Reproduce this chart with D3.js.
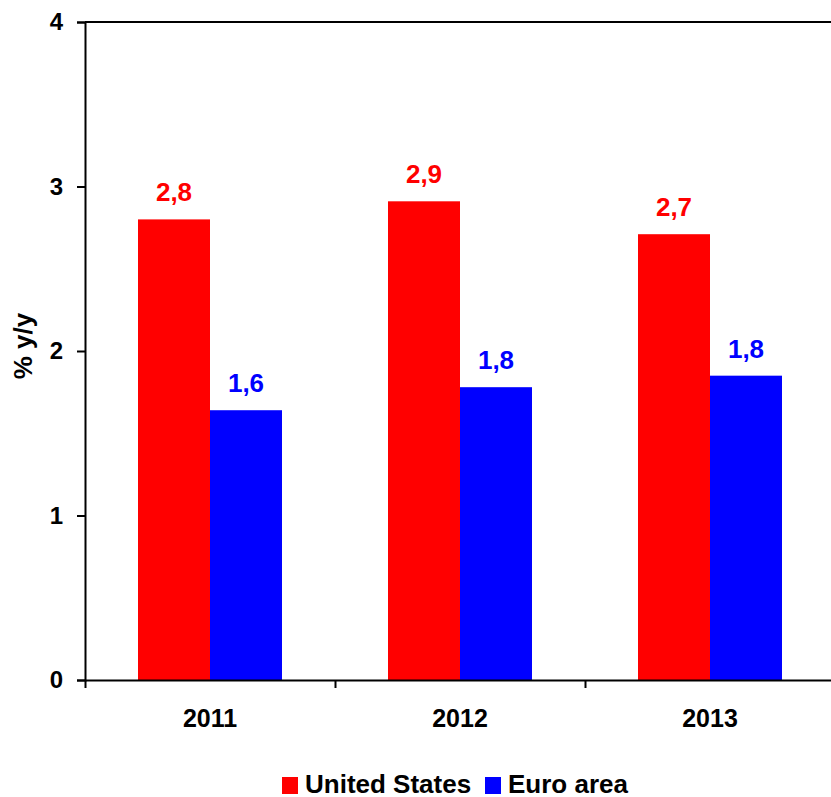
<!DOCTYPE html>
<html>
<head>
<meta charset="utf-8">
<script src="https://cdn.jsdelivr.net/npm/d3@7"></script>
<style>
  body { margin: 0; background: #fff; }
  svg text { font-family: "Liberation Sans", Arial, sans-serif; font-weight: bold; }
</style>
</head>
<body>
<script>
// data
var years = ["2011", "2012", "2013"];
var seriesNames = ["United States", "Euro area"];
var usValues = [2.8, 2.91, 2.71];
var euroValues = [1.64, 1.78, 1.85];
var valueLabels = [["2,8", "2,9", "2,7"], ["1,6", "1,8", "1,8"]];
var yTicks = [0, 1, 2, 3, 4];
var colors = ["#ff0000", "#0000ff"];

let w = 831;
let h = 797;
let mLeft = 85, mRight = 835, mTop = 22, mBottom = 680;

let svg = d3.select("body")
            .append("svg")
            .attr("width", w)
            .attr("height", h);

let x = d3.scaleBand()
          .domain(years)
          .range([mLeft, mRight]);

let xs = d3.scaleBand()
           .domain([0, 1])
           .range([0, 144]);

let y = d3.scaleLinear()
          .domain([0, 4])
          .range([mBottom, mTop]);

// top frame line
svg.append("line")
   .attr("x1", mLeft).attr("x2", mRight)
   .attr("y1", y(4)).attr("y2", y(4))
   .attr("stroke", "#000")
   .attr("stroke-width", 2);

let series = [usValues, euroValues];

series.forEach(function(vals, s) {
  svg.selectAll("rect.s" + s)
     .data(vals)
     .enter()
     .append("rect")
     .attr("class", "s" + s)
     .attr("x", function(d, i) {
       return x(years[i]) + (x.bandwidth() - 144) / 2 + xs(s);
     })
     .attr("y", function(d) { return y(d); })
     .attr("width", xs.bandwidth())
     .attr("height", function(d) { return y(0) - y(d); })
     .attr("fill", colors[s]);

  svg.selectAll("text.l" + s)
     .data(vals)
     .enter()
     .append("text")
     .attr("class", "l" + s)
     .text(function(d, i) { return valueLabels[s][i]; })
     .attr("x", function(d, i) {
       return x(years[i]) + (x.bandwidth() - 144) / 2 + xs(s) + xs.bandwidth() / 2;
     })
     .attr("y", function(d) { return y(d) - 18; })
     .attr("font-size", "26px")
     .attr("fill", colors[s])
     .attr("text-anchor", "middle");
});

// axes
let yAxis = d3.axisLeft(y)
              .tickValues(yTicks)
              .tickFormat(d3.format("d"))
              .tickSize(8)
              .tickPadding(14);

let gy = svg.append("g")
            .attr("transform", "translate(" + mLeft + ",0)")
            .call(yAxis);

let xAxis = d3.axisBottom(d3.scaleLinear().domain([0, 3]).range([mLeft, mRight]))
              .tickValues([0, 1, 2, 3])
              .tickFormat("")
              .tickSize(8)
              .tickSizeOuter(0);

let gx = svg.append("g")
            .attr("transform", "translate(0," + mBottom + ")")
            .call(xAxis);

[gy, gx].forEach(function(g) {
  g.select(".domain").attr("stroke", "#000").attr("stroke-width", 2);
  g.selectAll(".tick line").attr("stroke", "#000").attr("stroke-width", 2);
});
gy.selectAll(".tick text")
  .attr("font-size", "24px")
  .attr("font-family", "Liberation Sans, Arial, sans-serif")
  .attr("font-weight", "bold")
  .attr("fill", "#000");

svg.selectAll("text.year")
   .data(years)
   .enter()
   .append("text")
   .attr("class", "year")
   .text(function(d) { return d; })
   .attr("x", function(d) { return x(d) + x.bandwidth() / 2; })
   .attr("y", 727)
   .attr("font-size", "25px")
   .attr("text-anchor", "middle")
   .attr("fill", "#000");

// y title
svg.append("text")
   .text("% y/y")
   .attr("transform", "translate(32,346) rotate(-90)")
   .attr("font-size", "26px")
   .attr("text-anchor", "middle")
   .attr("fill", "#000");

// legend
let legendX = [282, 485];
let legend = svg.selectAll("g.legend")
                .data(seriesNames)
                .enter()
                .append("g")
                .attr("class", "legend")
                .attr("transform", function(d, i) {
                  return "translate(" + legendX[i] + ",777)";
                });

legend.append("rect")
      .attr("width", 16)
      .attr("height", 17)
      .attr("fill", function(d, i) { return colors[i]; });

legend.append("text")
      .text(function(d) { return d; })
      .attr("x", 23)
      .attr("y", 16)
      .attr("font-size", "26px")
      .attr("fill", "#000");
</script>
</body>
</html>
